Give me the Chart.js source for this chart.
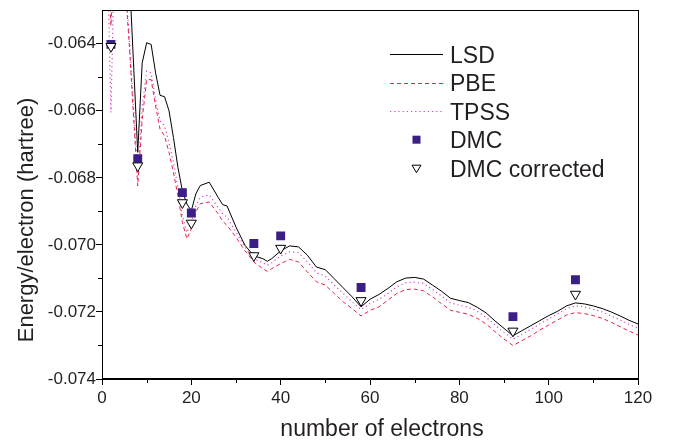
<!DOCTYPE html>
<html>
<head>
<meta charset="utf-8">
<script src="https://cdn.jsdelivr.net/npm/chart.js@4.4.1/dist/chart.umd.min.js"></script>
<style>
  html, body { margin: 0; padding: 0; background: #fff; }
  #contenedor { width: 679px; height: 444px; }
</style>
</head>
<body>
<div id="contenedor"><canvas id="grafico" width="679" height="444"></canvas></div>
<script>
// datos (energia por electron en hartree)
const electrones = [1, 2, 3, 4, 6, 8, 9, 10, 11, 12, 13, 14, 15, 16, 17, 18, 19, 20, 21, 22,
  24, 26, 27, 28, 30, 32, 34, 36, 37, 38, 40, 42, 44, 46, 48, 50, 52, 54, 56, 58,
  60, 62, 64, 66, 68, 70, 72, 74, 76, 78, 80, 82, 84, 86, 88, 90, 92, 94, 96, 98,
  100, 102, 104, 106, 108, 110, 112, 114, 116, 118, 120];

const lsd = [-0.0600, -0.0600, -0.0600, -0.0600, -0.0616, -0.06724, -0.06457, -0.06397, -0.06402, -0.06487,
  -0.06554, -0.06558, -0.06600, -0.06680, -0.06769, -0.06839, -0.06878, -0.06898, -0.06848, -0.06823,
  -0.06813, -0.06858, -0.06880, -0.06884, -0.06947, -0.07001, -0.07033, -0.07041, -0.07049, -0.07041,
  -0.07018, -0.07003, -0.07006, -0.07031, -0.07066, -0.07074, -0.07101, -0.07128, -0.07155, -0.07185,
  -0.07162, -0.07148, -0.07130, -0.07110, -0.07099, -0.07097, -0.07102, -0.07120, -0.07138, -0.07159,
  -0.07166, -0.07172, -0.07186, -0.07203, -0.07227, -0.07249, -0.07271, -0.07256, -0.07241, -0.07226,
  -0.07211, -0.07198, -0.07182, -0.07173, -0.07176, -0.07182, -0.07190, -0.07200, -0.07212, -0.07225,
  -0.07236];

const pbe = [-0.0600, -0.06347, -0.0600, -0.0600, -0.0638, -0.06824, -0.06625, -0.06507, -0.06507, -0.06586,
  -0.06655, -0.06675, -0.06724, -0.06784, -0.06854, -0.06933, -0.06982, -0.06952, -0.06902, -0.06877,
  -0.06872, -0.06907, -0.06929, -0.06942, -0.06977, -0.07017, -0.07051, -0.07071, -0.07079, -0.07071,
  -0.07056, -0.07043, -0.07051, -0.07081, -0.07110, -0.07120, -0.07145, -0.07170, -0.07190, -0.07212,
  -0.07195, -0.07185, -0.07165, -0.07145, -0.07133, -0.07132, -0.07137, -0.07155, -0.07175, -0.07195,
  -0.07201, -0.07207, -0.07219, -0.07236, -0.07259, -0.07281, -0.07300, -0.07286, -0.07271, -0.07254,
  -0.07239, -0.07224, -0.07209, -0.07202, -0.07205, -0.07211, -0.07219, -0.07231, -0.07244, -0.07257,
  -0.07269];

const tpss = [-0.0600, -0.06605, -0.0600, -0.0600, -0.0636, -0.06794, -0.06586, -0.06482, -0.06487, -0.06566,
  -0.06630, -0.06645, -0.06695, -0.06754, -0.06829, -0.06913, -0.06963, -0.06933, -0.06883, -0.06858,
  -0.06851, -0.06888, -0.06907, -0.06917, -0.06962, -0.07007, -0.07041, -0.07053, -0.07061, -0.07053,
  -0.07033, -0.07021, -0.07023, -0.07051, -0.07083, -0.07093, -0.07120, -0.07145, -0.07170, -0.07193,
  -0.07175, -0.07163, -0.07145, -0.07125, -0.07113, -0.07111, -0.07115, -0.07133, -0.07152, -0.07173,
  -0.07180, -0.07186, -0.07198, -0.07216, -0.07239, -0.07261, -0.07281, -0.07267, -0.07252, -0.07236,
  -0.07221, -0.07206, -0.07190, -0.07182, -0.07185, -0.07192, -0.07200, -0.07212, -0.07224, -0.07237,
  -0.07248];

const dmcElectrones = [2, 8, 18, 20, 34, 40, 58, 92, 106];
const dmc = [-0.06402, -0.06743, -0.06844, -0.06905, -0.06996, -0.06973, -0.07127, -0.07214, -0.07104];
const dmcCorregido = [-0.06408, -0.06764, -0.06874, -0.06935, -0.07032, -0.07010, -0.07166, -0.07257, -0.07147];

const ticksX = [0, 20, 40, 60, 80, 100, 120];
const ticksY = [-0.074, -0.072, -0.070, -0.068, -0.066, -0.064];
const menoresX = [10, 30, 50, 70, 90, 110];
const menoresY = [-0.073, -0.071, -0.069, -0.067, -0.065];

const fuente = "'Liberation Sans', Arial, sans-serif";
const colorTexto = "#231f20";

function puntos(xs, ys) {
  return xs.map((x, i) => ({ x: x, y: ys[i] }));
}

// marco completo, ticks menores y titulos de ejes
const marcoPlugin = {
  id: "marco",
  afterDraw(chart) {
    const { ctx, chartArea: a, scales } = chart;
    ctx.save();
    ctx.strokeStyle = "#000";
    ctx.lineWidth = 1;
    ctx.strokeRect(Math.round(a.left) + 0.5, Math.round(a.top) + 0.5,
      Math.round(a.right - a.left), Math.round(a.bottom - a.top) - 1);
    ctx.beginPath();
    menoresX.forEach((v) => {
      const x = Math.round(scales.x.getPixelForValue(v)) + 0.5;
      ctx.moveTo(x, a.bottom);
      ctx.lineTo(x, a.bottom + 4);
    });
    menoresY.forEach((v) => {
      const y = Math.round(scales.y.getPixelForValue(v)) + 0.5;
      ctx.moveTo(a.left, y);
      ctx.lineTo(a.left - 4, y);
    });
    ctx.stroke();

    ctx.fillStyle = colorTexto;
    ctx.font = "23px " + fuente;
    ctx.textAlign = "center";
    ctx.textBaseline = "alphabetic";
    ctx.fillText("number of electrons", 382, 436);
    ctx.font = "22px " + fuente;
    ctx.translate(27, 220);
    ctx.rotate(-Math.PI / 2);
    ctx.textBaseline = "middle";
    ctx.fillText("Energy/electron (hartree)", 0, 0);
    ctx.restore();
  },
};

// leyenda dentro del area del grafico
const leyendaPlugin = {
  id: "leyenda",
  afterDraw(chart) {
    const ctx = chart.ctx;
    const x0 = 390, x1 = 443, xm = 416.5, xt = 450, base0 = 62.7, paso = 28.5;
    ctx.save();
    ctx.font = "23px " + fuente;
    ctx.textAlign = "left";
    ctx.textBaseline = "alphabetic";
    chart.data.datasets.forEach((ds, i) => {
      const base = base0 + i * paso;
      const y = base - 8.5;
      if (ds.showLine) {
        ctx.beginPath();
        ctx.setLineDash(ds.borderDash || []);
        ctx.strokeStyle = ds.borderColor;
        ctx.lineWidth = ds.borderWidth;
        ctx.moveTo(x0, Math.round(y) + 0.5);
        ctx.lineTo(x1, Math.round(y) + 0.5);
        ctx.stroke();
        ctx.setLineDash([]);
      } else if (ds.pointStyle === "rect") {
        ctx.fillStyle = ds.backgroundColor;
        ctx.fillRect(xm - 4, y - 4, 8, 8);
      } else {
        ctx.beginPath();
        ctx.moveTo(xm - 4.5, y - 3);
        ctx.lineTo(xm + 4.5, y - 3);
        ctx.lineTo(xm, y + 4.5);
        ctx.closePath();
        ctx.fillStyle = "#fff";
        ctx.fill();
        ctx.strokeStyle = "#000";
        ctx.lineWidth = 1;
        ctx.stroke();
      }
      ctx.fillStyle = colorTexto;
      ctx.fillText(ds.label, xt, base);
    });
    ctx.restore();
  },
};

const ctx = document.getElementById("grafico");

new Chart(ctx, {
  type: "scatter",
  data: {
    datasets: [
      {
        label: "LSD",
        data: puntos(electrones, lsd),
        showLine: true,
        borderColor: "#000000",
        borderWidth: 1,
        pointRadius: 0,
        order: 3,
      },
      {
        label: "PBE",
        data: puntos(electrones, pbe),
        showLine: true,
        borderColor: "#e8224c",
        borderWidth: 1,
        borderDash: [4, 3],
        pointRadius: 0,
        order: 4,
      },
      {
        label: "TPSS",
        data: puntos(electrones, tpss),
        showLine: true,
        borderColor: "#d04ac4",
        borderWidth: 1.2,
        borderDash: [1.2, 3],
        pointRadius: 0,
        order: 5,
      },
      {
        label: "DMC",
        data: puntos(dmcElectrones, dmc),
        showLine: false,
        pointStyle: "rect",
        pointRadius: 6.3,
        backgroundColor: "#3b1f86",
        borderColor: "#3b1f86",
        borderWidth: 0,
        order: 1,
      },
      {
        label: "DMC corrected",
        data: puntos(dmcElectrones, dmcCorregido),
        showLine: false,
        pointStyle: "triangle",
        rotation: 180,
        pointRadius: 5.8,
        backgroundColor: "#ffffff",
        borderColor: "#000000",
        borderWidth: 1,
        order: 0,
      },
    ],
  },
  options: {
    responsive: false,
    animation: false,
    devicePixelRatio: 1,
    layout: { padding: { left: 0, right: 41, top: 3.5, bottom: 0 } },
    plugins: {
      legend: { display: false },
      tooltip: { enabled: false },
    },
    scales: {
      x: {
        type: "linear",
        position: "bottom",
        min: 0,
        max: 120,
        afterBuildTicks: (s) => { s.ticks = ticksX.map((v) => ({ value: v })); },
        afterFit: (s) => { s.height = 65; },
        ticks: {
          autoSkip: false,
          maxRotation: 0,
          padding: 3,
          color: colorTexto,
          font: { family: fuente, size: 17 },
        },
        grid: { drawOnChartArea: false, drawTicks: true, tickLength: 6, color: "#000", tickColor: "#000" },
        border: { display: true, color: "#000", width: 1 },
      },
      y: {
        type: "linear",
        position: "left",
        min: -0.074,
        max: -0.063,
        afterBuildTicks: (s) => { s.ticks = ticksY.map((v) => ({ value: v })); },
        afterFit: (s) => { s.width = 102; },
        ticks: {
          autoSkip: false,
          padding: 0,
          color: colorTexto,
          font: { family: fuente, size: 17 },
          callback: (v) => Number(v).toFixed(3),
        },
        grid: { drawOnChartArea: false, drawTicks: true, tickLength: 6, color: "#000", tickColor: "#000" },
        border: { display: true, color: "#000", width: 1 },
      },
    },
  },
  plugins: [marcoPlugin, leyendaPlugin],
});
</script>
</body>
</html>
